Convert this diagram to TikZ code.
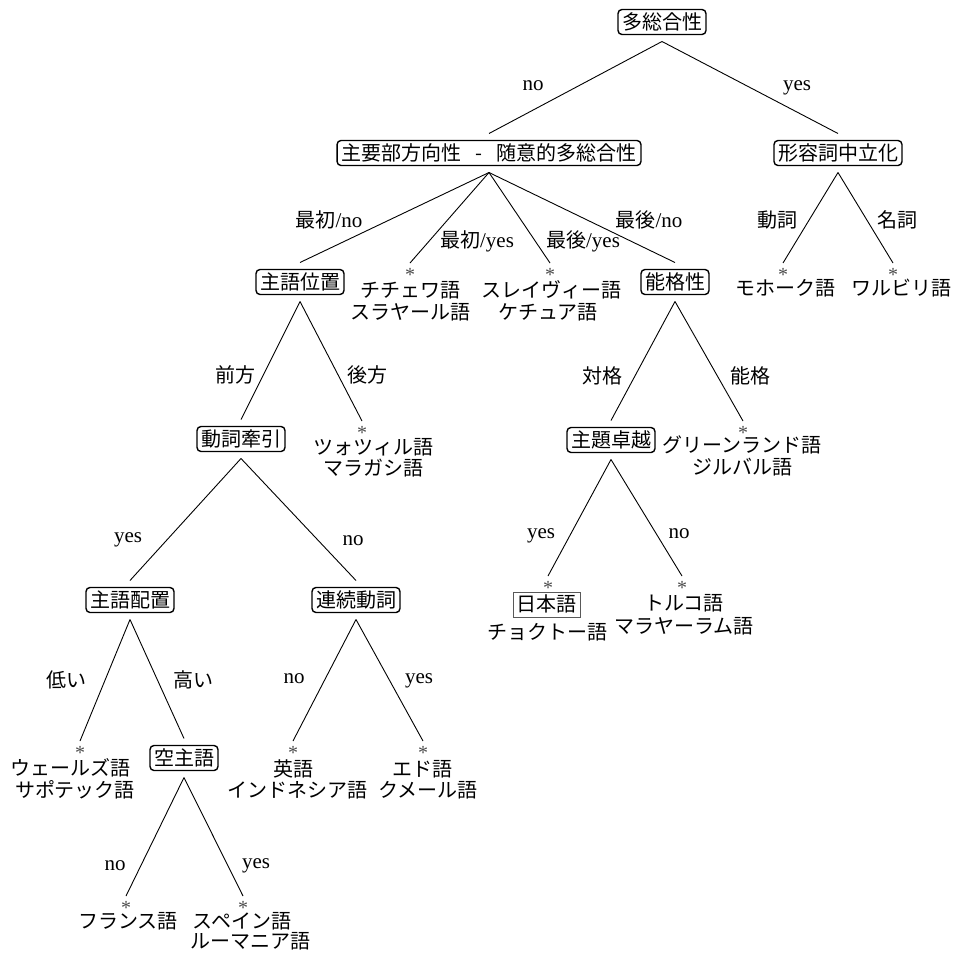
\documentclass[tikz,border=0pt]{standalone}
\usepackage{fontspec}
\setmainfont{Liberation Serif}
\newfontfamily\jpfont{Noto Sans CJK JP}
\newcommand{\jp}[1]{{\jpfont\fontsize{20}{24}\selectfont #1}}
\tikzset{
  feat/.style={draw, rounded corners=4pt, line width=1.4pt,
    font=\jpfont\fontsize{20}{24}\selectfont, inner xsep=4pt, inner ysep=2.5pt,
    text height=17pt, text depth=3pt, outer xsep=0pt, outer ysep=7pt},
  boxedleaf/.style={draw=black!65, line width=1pt,
    font=\jpfont\fontsize{20}{24}\selectfont, inner xsep=3.5pt, inner ysep=2.5pt,
    text height=17pt, text depth=3pt},
  leafline/.style={anchor=base, inner sep=0pt, font=\jpfont\fontsize{20}{24}\selectfont},
  lbl/.style={anchor=base, inner sep=0pt, font=\fontsize{21}{24}\selectfont},
  ast/.style={inner sep=0pt, text height=5pt, text depth=5pt, outer ysep=4pt,
    text=black!70, font=\fontsize{20}{22}\selectfont},
  branch/.style={line width=0.9pt}
}
\newcommand{\astsym}{\raisebox{-9.9pt}{*}}
\begin{document}
\begin{tikzpicture}[x=1pt,y=-1pt]
\useasboundingbox (0,0) rectangle (955,956);

% feature nodes
\node[feat] (root) at (662,22) {多総合性};
\node[feat] (hd) at (489,153) {主要部方向性\kern10pt\ -\ \kern10pt随意的多総合性};
\node[feat] (adj) at (838,153) {形容詞中立化};
\node[feat] (subjpos) at (300,282) {主語位置};
\node[feat] (erg) at (675,282) {能格性};
\node[feat] (vraise) at (241,439) {動詞牽引};
\node[feat] (topic) at (611,440) {主題卓越};
\node[feat] (subjplace) at (130,600) {主語配置};
\node[feat] (serial) at (356,600) {連続動詞};
\node[feat] (nullsub) at (184,758) {空主語};

% asterisks of leaves
\node[ast] (chiS) at (410,272) {\astsym};
\node[ast] (slaS) at (550,272) {\astsym};
\node[ast] (mohS) at (783,272) {\astsym};
\node[ast] (warS) at (893,272) {\astsym};
\node[ast] (tzoS) at (362,430) {\astsym};
\node[ast] (greS) at (743,430) {\astsym};
\node[ast] (japS) at (548,585) {\astsym};
\node[ast] (turS) at (682,585) {\astsym};
\node[ast] (welS) at (80,750) {\astsym};
\node[ast] (engS) at (293,750) {\astsym};
\node[ast] (edoS) at (423,750) {\astsym};
\node[ast] (freS) at (126,905) {\astsym};
\node[ast] (spaS) at (243,905) {\astsym};

% leaf texts
\node[leafline] (chi1) at (410,297.5) {チチェワ語};
\node[leafline] (chi2) at (410,319.5) {スラヤール語};
\node[leafline] (sla1) at (551,297.5) {スレイヴィー語};
\node[leafline] (sla2) at (548,319.5) {ケチュア語};
\node[leafline] (moh1) at (785,295.5) {モホーク語};
\node[leafline] (war1) at (901,295.5) {ワルビリ語};
\node[leafline] (tzo1) at (373,454.5) {ツォツィル語};
\node[leafline] (tzo2) at (373,475.5) {マラガシ語};
\node[leafline] (gre1) at (742,452.5) {グリーンランド語};
\node[leafline] (gre2) at (742,474.5) {ジルバル語};
\node[boxedleaf] (jap1) at (546.5,604.5) {日本語};
\node[leafline] (jap2) at (547,639.5) {チョクトー語};
\node[leafline] (tur1) at (684,610.5) {トルコ語};
\node[leafline] (tur2) at (684,633.5) {マラヤーラム語};
\node[leafline] (wel1) at (70,775.5) {ウェールズ語};
\node[leafline] (wel2) at (75,797.5) {サポテック語};
\node[leafline] (eng1) at (293,776.5) {英語};
\node[leafline] (eng2) at (297,797.5) {インドネシア語};
\node[leafline] (edo1) at (422,776.5) {エド語};
\node[leafline] (edo2) at (428,797.5) {クメール語};
\node[leafline] (fre1) at (128,928.5) {フランス語};
\node[leafline] (spa1) at (242,928.5) {スペイン語};
\node[leafline] (spa2) at (250,948.5) {ルーマニア語};

% branches
\draw[branch] (root.south) -- (hd.north);
\draw[branch] (root.south) -- (adj.north);
\draw[branch] (hd.south) -- (subjpos.north);
\draw[branch] (hd.south) -- (chiS.north);
\draw[branch] (hd.south) -- (slaS.north);
\draw[branch] (hd.south) -- (erg.north);
\draw[branch] (adj.south) -- (mohS.north);
\draw[branch] (adj.south) -- (warS.north);
\draw[branch] (subjpos.south) -- (vraise.north);
\draw[branch] (subjpos.south) -- (tzoS.north);
\draw[branch] (erg.south) -- (topic.north);
\draw[branch] (erg.south) -- (greS.north);
\draw[branch] (vraise.south) -- (subjplace.north);
\draw[branch] (vraise.south) -- (serial.north);
\draw[branch] (topic.south) -- (japS.north);
\draw[branch] (topic.south) -- (turS.north);
\draw[branch] (subjplace.south) -- (welS.north);
\draw[branch] (subjplace.south) -- (nullsub.north);
\draw[branch] (serial.south) -- (engS.north);
\draw[branch] (serial.south) -- (edoS.north);
\draw[branch] (nullsub.south) -- (freS.north);
\draw[branch] (nullsub.south) -- (spaS.north);

% branch labels
\node[lbl] (l1) at (533,90) {no};
\node[lbl] (l2) at (797,90) {yes};
\node[lbl] (l3) at (329,227.5) {\jp{最初}/no};
\node[lbl] (l4) at (477,247.5) {\jp{最初}/yes};
\node[lbl] (l5) at (583,247.5) {\jp{最後}/yes};
\node[lbl] (l6) at (649,227.5) {\jp{最後}/no};
\node[lbl] (l7) at (777,227.5) {\jp{動詞}};
\node[lbl] (l8) at (897,227.5) {\jp{名詞}};
\node[lbl] (l9) at (235,382.5) {\jp{前方}};
\node[lbl] (l10) at (367,382.5) {\jp{後方}};
\node[lbl] (l11) at (602,383.5) {\jp{対格}};
\node[lbl] (l12) at (750,383.5) {\jp{能格}};
\node[lbl] (l13) at (541,538) {yes};
\node[lbl] (l14) at (679,538) {no};
\node[lbl] (l15) at (128,542) {yes};
\node[lbl] (l16) at (353,545) {no};
\node[lbl] (l17) at (66,687.5) {\jp{低い}};
\node[lbl] (l18) at (193,687.5) {\jp{高い}};
\node[lbl] (l19) at (294,683) {no};
\node[lbl] (l20) at (419,683) {yes};
\node[lbl] (l21) at (115,870) {no};
\node[lbl] (l22) at (256,868) {yes};
\end{tikzpicture}
\end{document}
